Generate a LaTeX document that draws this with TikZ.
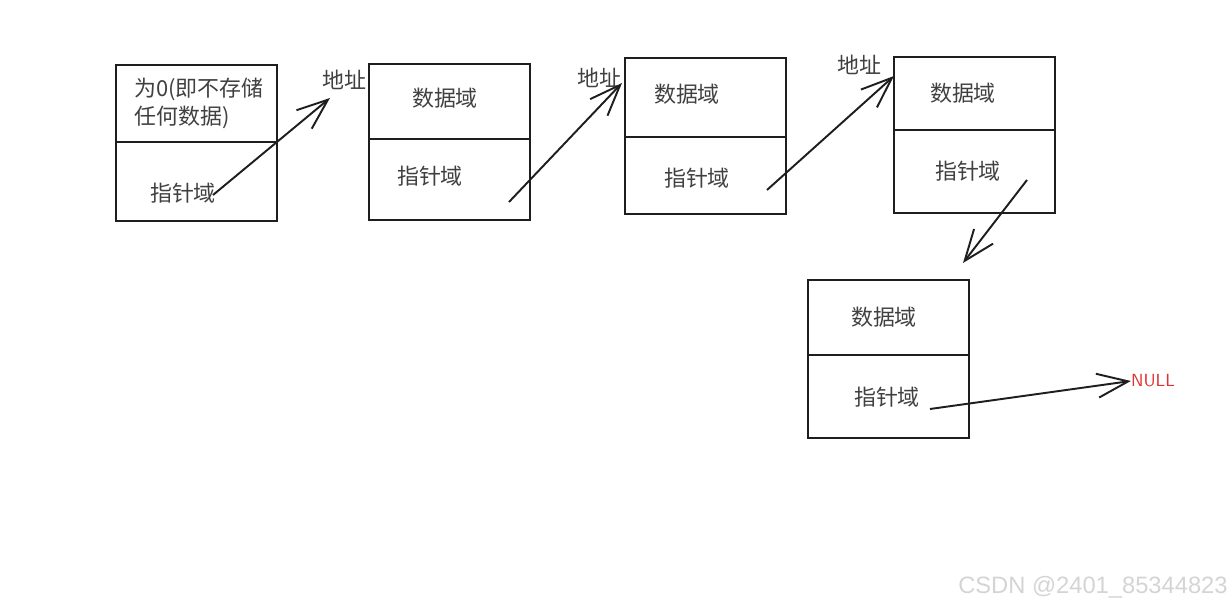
\documentclass[tikz,border=0pt]{standalone}
\usepackage{fontspec}
\setmainfont{Noto Sans CJK SC}
\newfontfamily\markfont{Liberation Sans}
\usetikzlibrary{arrows.meta, positioning}
\definecolor{mydark}{RGB}{30,30,30}
\definecolor{myred}{RGB}{224,49,49}
\definecolor{mymark}{RGB}{212,212,212}
\tikzset{
  field/.style={rectangle, draw=mydark, line width=1.1pt, minimum width=3.22cm,
    inner sep=0pt, outer sep=0pt},
  lbl/.style={font=\fontsize{12.5}{16}\selectfont, text=mydark!85, inner sep=0pt},
  arrow/.style={-{Straight Barb[length=6.2mm, width=4.8mm]}, line width=1.1pt, color=mydark}
}

\begin{document}
\begin{tikzpicture}[x=0.02cm, y=-0.02cm]
  \useasboundingbox (0,0) rectangle (1232,607);

  % head node
  \node[field, minimum height=1.54cm, anchor=north west] (hdata) at (116,65) {};
  \node[field, minimum height=1.58cm, below=0cm of hdata] (hptr) {};
  \node[lbl, align=left, anchor=north west] (htxt) at (134,78) {为0(即不存储\\任何数据)};
  \node[lbl] (hptrtxt) at (183,193) {指针域};

  % node 1
  \node[field, minimum height=1.50cm, anchor=north west] (n1data) at (369,64) {};
  \node[field, minimum height=1.62cm, below=0cm of n1data] (n1ptr) {};
  \node[lbl] (n1dtxt) at (445,98) {数据域};
  \node[lbl] (n1ptxt) at (430,176) {指针域};

  % node 2
  \node[field, minimum height=1.58cm, anchor=north west] (n2data) at (625,58) {};
  \node[field, minimum height=1.54cm, below=0cm of n2data] (n2ptr) {};
  \node[lbl] (n2dtxt) at (687,94) {数据域};
  \node[lbl] (n2ptxt) at (697,178) {指针域};

  % node 3
  \node[field, minimum height=1.46cm, anchor=north west] (n3data) at (894,57) {};
  \node[field, minimum height=1.66cm, below=0cm of n3data] (n3ptr) {};
  \node[lbl] (n3dtxt) at (963,93) {数据域};
  \node[lbl] (n3ptxt) at (968,171) {指针域};

  % node 4
  \node[field, minimum height=1.50cm, anchor=north west] (n4data) at (808,280) {};
  \node[field, minimum height=1.66cm, below=0cm of n4data] (n4ptr) {};
  \node[lbl] (n4dtxt) at (884,317) {数据域};
  \node[lbl] (n4ptxt) at (887,397) {指针域};

  % address labels and end
  \node[lbl] (addr1) at (344,80) {地址};
  \node[lbl] (addr2) at (599,78) {地址};
  \node[lbl] (addr3) at (859,65) {地址};
  \node[inner sep=0pt, text=myred, font=\fontsize{10}{12}\selectfont\sffamily] (null) at (1153,381) {NULL};

  \coordinate (t1) at (213,195);
  \coordinate (h1) at (330,98);
  \coordinate (t2) at (509,202);
  \coordinate (h2) at (622,83);
  \coordinate (t3) at (767,190);
  \coordinate (h3) at (894,76);
  \coordinate (t4) at (1027,180);
  \coordinate (h4) at (963,263);
  \coordinate (t5) at (930,409);

  \draw[arrow] (t1) -- (h1);
  \draw[arrow] (t2) -- (h2);
  \draw[arrow] (t3) -- (h3);
  \draw[arrow] (t4) -- (h4);
  \draw[arrow] (t5) -- (null.west);

  \node[text=mymark, font=\markfont\fontsize{13.5}{16}\selectfont, anchor=east, inner sep=0pt] (mark) at (1228,587) {CSDN @2401\_85344823};
\end{tikzpicture}
\end{document}
